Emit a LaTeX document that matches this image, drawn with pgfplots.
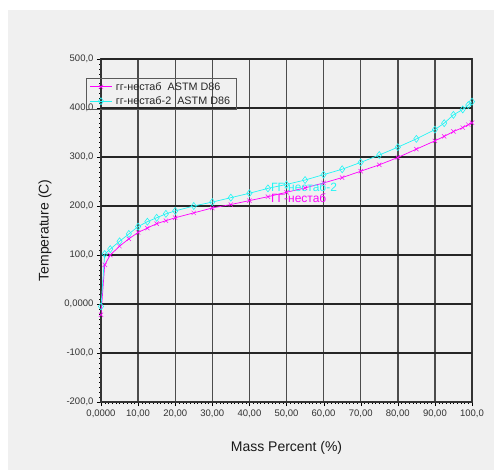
\documentclass[border=0pt]{standalone}
\usepackage{fontspec}
\setmainfont{Liberation Sans}
\usepackage{pgfplots}
\pgfplotsset{compat=1.18}
\definecolor{bg}{HTML}{F0F0F0}
\definecolor{mag}{HTML}{FF00FF}
\definecolor{cya}{HTML}{22F5F5}
\begin{document}
\begin{tikzpicture}
\useasboundingbox (-101pt,-68pt) rectangle (393pt,402pt);
\fill[white] (-101pt,-68pt) rectangle (393pt,402pt);
\fill[bg] (-93pt,-68pt) rectangle (393pt,392pt);
\begin{axis}[
  at={(0pt,0pt)}, anchor=south west,
  scale only axis, width=371pt, height=343pt,
  xmin=0, xmax=100, ymin=-200, ymax=500,
  xtick={0,10,...,100}, ytick={-200,-100,0,100,200,300,400,500},
  xticklabels={{0,0000},{10,00},{20,00},{30,00},{40,00},{50,00},{60,00},{70,00},{80,00},{90,00},{100,0}},
  yticklabels={{-200,0},{-100,0},{0,0000},{100,0},{200,0},{300,0},{400,0},{500,0}},
  minor x tick num=9, minor y tick num=9,
  xtick pos=left, ytick pos=left,
  axis line style={black!80, line width=1.4pt},
  tick align=outside,
  major tick length=4pt, minor tick length=2pt,
  tick style={black},
  xmajorgrids=true,
  x grid style={black!70, line width=1.4pt},
  tick label style={font=\fontsize{9.5}{11}\selectfont, text=black!80},
  xlabel={Mass Percent (\%)},
  ylabel={Temperature (C)},
  label style={font=\fontsize{14}{16}\selectfont, text=black!90},
  xlabel style={at={(axis description cs:0.5,-0.134)}, anchor=center},
  ylabel style={at={(axis description cs:-0.151,0.5)}, anchor=center},
  legend style={at={(axis description cs:-0.0404,0.9446)}, anchor=north west,
    draw=black!65, line width=1.2pt, fill=none, font=\fontsize{10.8}{13}\selectfont,
    text=black!85, inner xsep=3pt, inner ysep=1.5pt, row sep=1pt,
    nodes={inner xsep=3.5pt}},
  legend cell align=left,
  legend image code/.code={\draw[mark repeat=2,mark phase=2,#1] plot coordinates {(0pt,0pt) (11pt,0pt) (22pt,0pt)};},
]
\pgfplotsinvokeforeach{-100,0,100,200,300,400,500}{
  \fill[black!85] ([yshift=-0.7pt]axis cs:0,#1) rectangle ([yshift=0.7pt]axis cs:100,#1);
}
\addplot[color=mag, line width=0.7pt, mark=x, mark size=3pt, mark options={line width=0.5pt}] table {
x y
0 -22
1 80
2.5 100
5 118
7.5 133
10 146
12.5 155
15 164
17.5 170
20 176
25 186
30 196
35 203
40 211
45 219
50 228
55 237
60 247
65 258
70 271
75 284
80 299
85 316
90 333
92.5 342
95 352
97.5 360
99 366
100 370
};
\addlegendentry{гг-нестаб\ \ ASTM D86}
\addplot[color=cya, line width=0.7pt, mark=diamond, mark size=3.5pt, mark options={line width=0.6pt, fill=none}] table {
x y
0 -5
1 102
2.5 112
5 128
7.5 143
10 158
12.5 168
15 176
17.5 184
20 190
25 200
30 208
35 217
40 226
45 236
50 244
55 253
60 264
65 275
70 289
75 304
80 320
85 337
90 356
92.5 369
95 386
97.5 397
99 406
100 413
};
\addlegendentry{гг-нестаб-2\ \ ASTM D86}
\node[anchor=west, text=mag, font=\fontsize{12}{14}\selectfont, inner sep=0pt, xshift=3pt, yshift=-1.5pt] at (axis cs:45,219) {ГГ-нестаб};
\node[anchor=west, text=cya, font=\fontsize{12}{14}\selectfont, inner sep=0pt, xshift=3pt, yshift=1.5pt] at (axis cs:45,236) {ГГ-нестаб-2};
\end{axis}
\end{tikzpicture}
\end{document}
